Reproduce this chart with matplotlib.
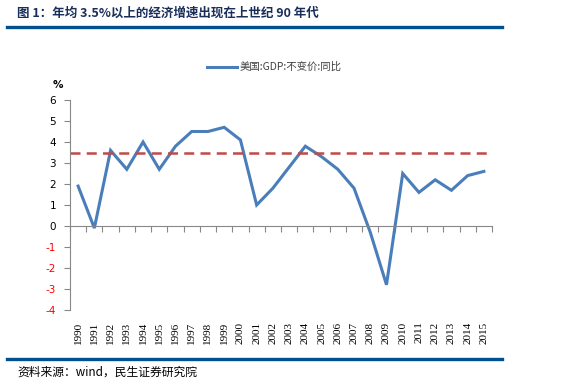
import matplotlib
matplotlib.use("Agg")
import matplotlib.pyplot as plt
from matplotlib.lines import Line2D

plt.rcParams['font.family'] = ['Noto Sans CJK SC', 'DejaVu Sans']

years = [str(y) for y in range(1990, 2016)]
gdp = [1.9, -0.1, 3.6, 2.7, 4.0, 2.7, 3.8, 4.5, 4.5, 4.7, 4.1, 1.0, 1.8, 2.8,
       3.8, 3.3, 2.7, 1.8, -0.3, -2.8, 2.5, 1.6, 2.2, 1.7, 2.4, 2.6]
ref_level = 3.5
yticks = [-4, -3, -2, -1, 0, 1, 2, 3, 4, 5, 6]
series_label = "美国:GDP:不变价:同比"
title = "图 1：年均 3.5%以上的经济增速出现在上世纪 90 年代"
source = "资料来源：wind，民生证券研究院"

fig = plt.figure(figsize=(5.61, 3.85), dpi=100)
ax = fig.add_axes([70/561, 1-310/385, 422/561, 210/385])

x = list(range(len(years)))
ax.plot(x, gdp, color='#4A7EBB', lw=2.2, solid_joinstyle='miter')
ax.axhline(ref_level, color='#BE4B48', lw=1.8, ls=(0, (4, 2.5)))

ax.set_xlim(-0.5, len(years)-0.5)
ax.set_ylim(-4, 6)
ax.set_yticks(yticks)
ax.set_yticklabels([str(v) for v in yticks], fontsize=7.5, fontfamily='DejaVu Sans')
for lab, v in zip(ax.get_yticklabels(), yticks):
    lab.set_color('red' if v < 0 else 'black')
ax.tick_params(axis='y', direction='out', length=4, color='#888888', pad=6)

for s in ['top', 'right']:
    ax.spines[s].set_visible(False)
ax.spines['left'].set_color('#888888')
ax.spines['bottom'].set_position(('data', 0))
ax.spines['bottom'].set_color('#888888')
ax.set_xticks([i - 0.5 for i in range(len(years)+1)])
ax.set_xticklabels([])
ax.tick_params(axis='x', direction='out', length=4, color='#888888')

for xi, yr in zip(x, years):
    ax.text(xi, -0.055, yr, transform=ax.get_xaxis_transform(), rotation=90,
            ha='center', va='top', fontsize=8, fontfamily='Liberation Serif')

fig.text(53/561, 1-85/385, '%', fontsize=7.5, fontweight='bold', ha='left', va='center',
         fontfamily='DejaVu Sans')

# legend
fig.add_artist(Line2D([207/561, 237/561], [1-67/385, 1-67/385], color='#4A7EBB', lw=2.2))
fig.text(240/561, 1-67/385, series_label, fontsize=7.5, color='#404040', ha='left', va='center')

# title and rules
fig.text(17/561, 1-13/385, title, fontsize=9, fontweight='bold', color='#1A2E5A',
         ha='left', va='center')
fig.add_artist(Line2D([7/561, 502/561], [1-27/385, 1-27/385], color='#00508F', lw=2.4))
fig.add_artist(Line2D([7/561, 502/561], [1-359/385, 1-359/385], color='#00508F', lw=2.4))
fig.text(17/561, 1-372/385, source, fontsize=8.5, color='black', ha='left', va='center')

fig.savefig('out.png', dpi=100)
